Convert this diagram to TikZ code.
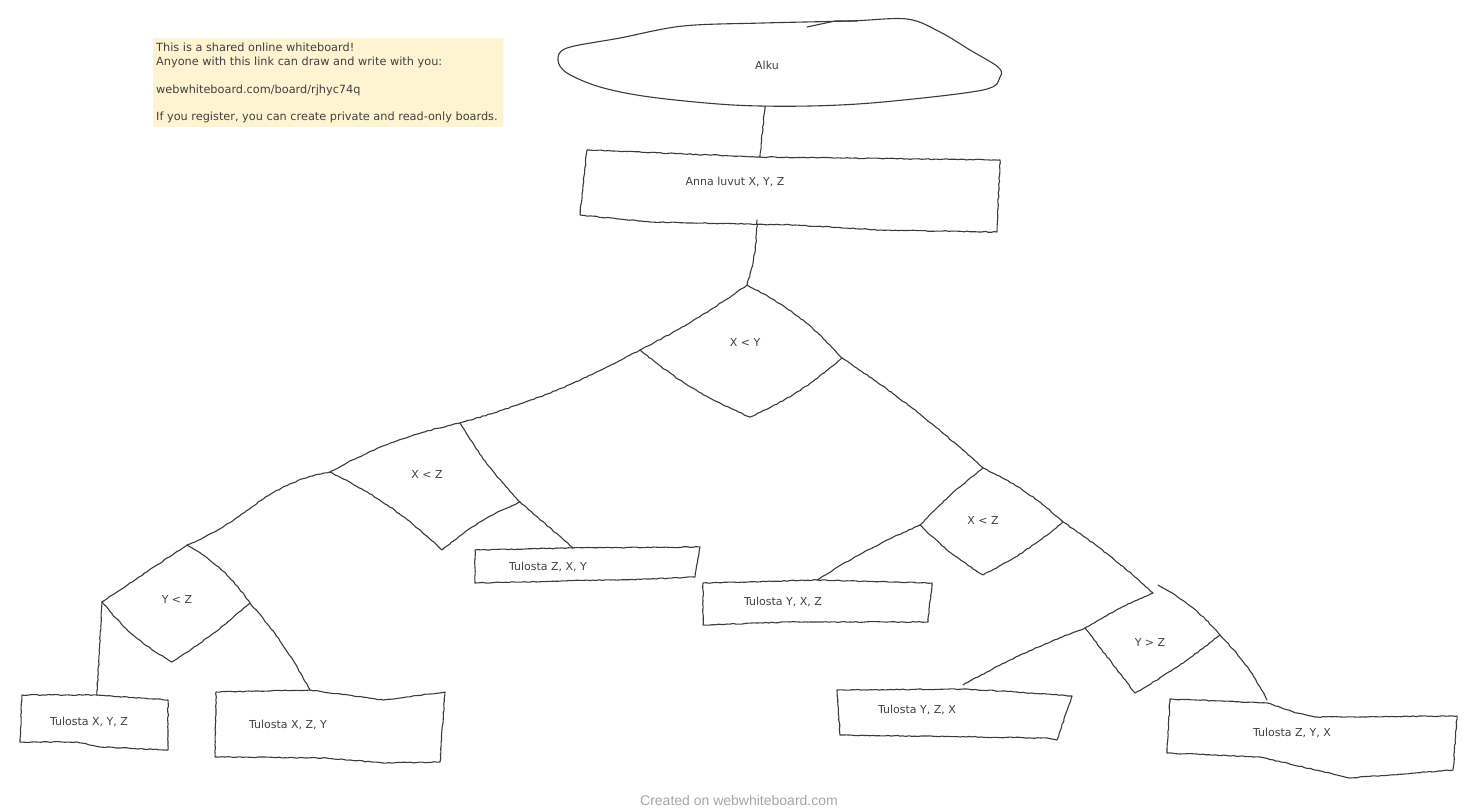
\documentclass[tikz,border=0pt]{standalone}
\usepackage{fontspec}
\setmainfont{DejaVu Sans}
\newfontfamily\footfont{Liberation Sans}
\usetikzlibrary{decorations.pathmorphing}
\definecolor{notebg}{HTML}{FFF4D2}
\definecolor{ink}{HTML}{3A3A3A}
\begin{document}
\begin{tikzpicture}[x=1pt, y=-1pt, line join=round, line cap=round,
  sketch/.style={draw=ink, line width=1.1pt},
  rough/.style={sketch, decorate, decoration={random steps, segment length=3pt, amplitude=0.45pt}},
  lbl/.style={inner sep=0pt, font=\fontsize{11}{13}\selectfont, text=black!75}]
\pgfmathsetseed{7}
\useasboundingbox (0,0) rectangle (1478,811);
% note in the corner
\fill[notebg] (153,38) rectangle (503,127);
\node[lbl, anchor=north west, align=left, font=\fontsize{11.3}{14}\selectfont] (note) at (156,42.5)
  {This is a shared online whiteboard!\\Anyone with this link can draw and write with you:\\[14pt]webwhiteboard.com/board/rjhyc74q\\[13pt]If you register, you can create private and read-only boards.};
% start
\draw[sketch] plot[smooth cycle, tension=0.55] coordinates {(558,60) (567,48) (620,38) (683,26) (763,23) (850,21) (907,19) (940,32) (970,50) (998,67) (1000,77) (983,90) (883,102) (810,106) (733,105) (650,97) (600,87) (567,73)};
\draw[sketch] (807,27) -- (835,21) -- (857,21);
\node[lbl] (alku) at (767,65) {Alku};
\coordinate (alku-s) at (765,106);
% input
\draw[rough] (587,150) -- (612,151) -- (760,157) -- (1000,160) -- (997,232) -- (880,230) -- (795,225) -- (650,222) -- (580,215) -- (583,185) -- cycle;
\node[lbl] (anna) at (735,182) {Anna luvut X, Y, Z};
\coordinate (anna-n) at (760,157);
\coordinate (anna-s) at (757,220);
% X < Y
\coordinate (xy-n) at (747,285); \coordinate (xy-w) at (640,350);
\coordinate (xy-s) at (750,417); \coordinate (xy-e) at (842,358);
\draw[rough] (xy-n) to[bend left=4] (xy-w) to[bend right=8] (xy-s) to[bend right=8] (xy-e) to[bend right=10] (xy-n);
\node[lbl] (xy) at (745,342) {X < Y};
% X < Z (left)
\coordinate (xz1-n) at (460,423); \coordinate (xz1-w) at (330,472);
\coordinate (xz1-s) at (442,550); \coordinate (xz1-e) at (520,502);
\draw[rough] (xz1-n) to[bend right=8] (xz1-w) to[bend left=8] (xz1-s) to[bend left=8] (xz1-e) to[bend left=6] (xz1-n);
\node[lbl] (xz1) at (427,474) {X < Z};
% Y < Z
\coordinate (yz-n) at (187,545); \coordinate (yz-w) at (102,602);
\coordinate (yz-s) at (172,662); \coordinate (yz-e) at (250,603);
\draw[rough] (yz-n) -- (yz-w) to[bend right=10] (yz-s) to[bend right=4] (yz-e) to[bend right=12] (yz-n);
\node[lbl] (yz) at (177,599) {Y < Z};
% X < Z (right)
\coordinate (xz2-n) at (983,468); \coordinate (xz2-w) at (920,525);
\coordinate (xz2-s) at (983,575); \coordinate (xz2-e) at (1063,522);
\draw[rough] (xz2-n) to[bend right=4] (xz2-w) to[bend right=6] (xz2-s) to[bend right=6] (xz2-e) to[bend right=8] (xz2-n);
\node[lbl] (xz2) at (983,520) {X < Z};
% Y > Z
\coordinate (yz2-n) at (1153,593); \coordinate (yz2-w) at (1085,628);
\coordinate (yz2-s) at (1135,693); \coordinate (yz2-e) at (1220,635);
\draw[rough] (yz2-n) to[bend right=4] (yz2-w) -- (yz2-s) to[bend right=4] (yz2-e) to[bend right=10] (1158,585);
\node[lbl] (yz2) at (1150,642) {Y > Z};
% outputs
\draw[rough] (475,550) -- (573,548) -- (700,547) -- (695,577) -- (650,579) -- (475,583) -- cycle;
\node[lbl] (tzxy) at (548,567) {Tulosta Z, X, Y};
\coordinate (tzxy-n) at (573,548);
\draw[rough] (22,695) -- (97,695) -- (168,700) -- (168,750) -- (100,747) -- (77,742) -- (20,742) -- cycle;
\node[lbl] (txyz) at (89,722) {Tulosta X, Y, Z};
\coordinate (txyz-n) at (97,695);
\draw[rough] (216,692) -- (310,690) -- (383,700) -- (445,692) -- (440,762) -- (383,763) -- (327,758) -- (215,757) -- cycle;
\node[lbl] (txzy) at (288,725) {Tulosta X, Z, Y};
\coordinate (txzy-n) at (310,690);
\draw[rough] (703,583) -- (817,580) -- (932,583) -- (928,622) -- (790,622) -- (703,625) -- cycle;
\node[lbl] (tyxz) at (783,602) {Tulosta Y, X, Z};
\coordinate (tyxz-n) at (817,580);
\draw[rough] (837,690) -- (963,689) -- (1017,692) -- (1072,696) -- (1057,740) -- (1047,738) -- (840,735) -- cycle;
\node[lbl] (tyzx) at (917,710) {Tulosta Y, Z, X};
\coordinate (tyzx-n) at (963,685);
\draw[rough] (1170,699) -- (1267,703) -- (1297,713) -- (1317,717) -- (1457,716) -- (1453,770) -- (1350,778) -- (1337,775) -- (1260,757) -- (1167,753) -- cycle;
\node[lbl] (tzyx) at (1292,733) {Tulosta Z, Y, X};
\coordinate (tzyx-n) at (1267,700);
% connectors
\draw[rough] (alku-s) -- (anna-n);
\draw[rough] (anna-s) to[bend left=8] (xy-n);
\draw[rough] (xy-w) to[bend left=6] (xz1-n);
\draw[rough] (xy-e) to[bend left=4] (xz2-n);
\draw[rough] (xz1-w) .. controls (260,485) and (250,520) .. (yz-n);
\draw[rough] (xz1-e) -- (tzxy-n);
\draw[rough] (yz-w) -- (txyz-n);
\draw[rough] (yz-e) to[bend left=6] (txzy-n);
\draw[rough] (xz2-w) to[bend right=4] (tyxz-n);
\draw[rough] (xz2-e) to[bend left=4] (yz2-n);
\draw[rough] (yz2-w) to[bend right=4] (tyzx-n);
\draw[rough] (yz2-e) to[bend left=8] (tzyx-n);
% footer
\node[inner sep=0pt, font=\footfont\fontsize{14}{16}\selectfont, text=black!35] (credit) at (739,800) {Created on webwhiteboard.com};
\end{tikzpicture}
\end{document}
